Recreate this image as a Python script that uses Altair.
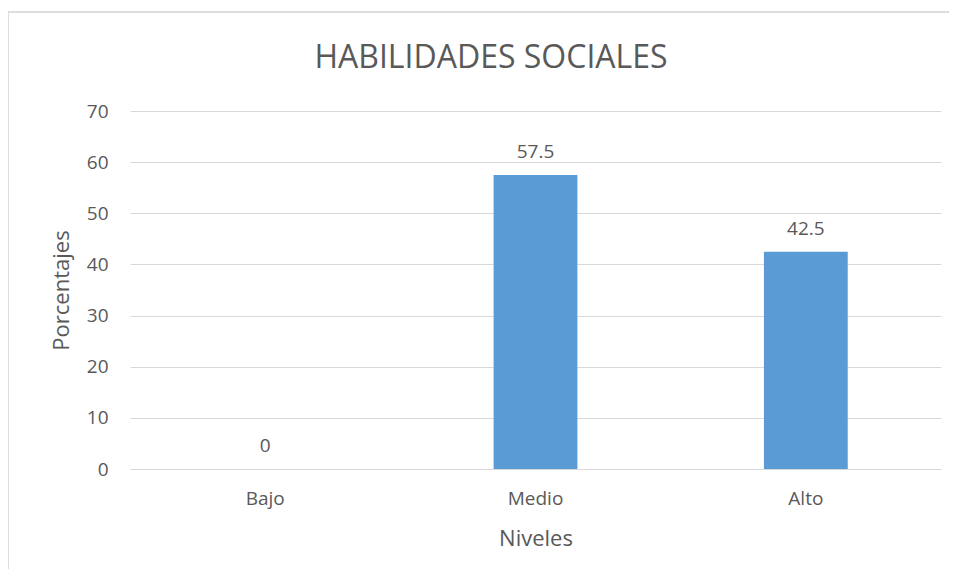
import altair as alt
import pandas as pd

categories = ["Bajo", "Medio", "Alto"]
values = [0, 57.5, 42.5]
labels = ["0", "57.5", "42.5"]
title_text = "HABILIDADES SOCIALES"

df = pd.DataFrame({"Nivel": categories, "Porcentaje": values, "Etiqueta": labels})

FONT = "Open Sans"
TXT = "#595959"
GRID = "#D9D9D9"

x_enc = alt.X("Nivel:N", sort=categories,
              scale=alt.Scale(paddingInner=0.69, paddingOuter=0.345),
              axis=alt.Axis(title="Niveles", labelAngle=0, labelPadding=20, ticks=False,
                            domain=False, titlePadding=20))
y_enc = alt.Y("Porcentaje:Q", scale=alt.Scale(domain=[0, 70], nice=False),
              axis=alt.Axis(title="Porcentajes", values=[0, 10, 20, 30, 40, 50, 60, 70],
                            ticks=False, domain=False, labelPadding=22, titlePadding=13,
                            gridColor=GRID, gridWidth=1))

bars = alt.Chart(df).mark_bar(color="#5B9BD5").encode(x=x_enc, y=y_enc)
text = alt.Chart(df).mark_text(baseline="bottom", dy=-13, font=FONT, fontSize=19, color=TXT).encode(
    x=alt.X("Nivel:N", sort=categories), y="Porcentaje:Q", text="Etiqueta:N")

title = alt.Chart(df).transform_filter(alt.datum.Nivel == "Bajo").mark_text(
    font=FONT, fontSize=32, color=TXT, align="center", baseline="alphabetic").encode(
    x=alt.value(361), y=alt.value(-43), text=alt.value(title_text))

top_border = alt.Chart(df).mark_rule(color=GRID, strokeWidth=1).encode(
    x=alt.value(-122), x2=alt.value(820), y=alt.value(-99))
left_border = alt.Chart(df).mark_rule(color=GRID, strokeWidth=1).encode(
    x=alt.value(-122), y=alt.value(-99), y2=alt.value(470))

chart = alt.layer(bars, text, title, top_border, left_border).properties(
    width=811, height=358,
    padding={"left": 122, "top": 103, "right": 8, "bottom": 100},
    autosize="none",
).configure_view(stroke=None).configure_axis(
    labelFont=FONT, labelFontSize=19, labelColor=TXT,
    titleFont=FONT, titleFontSize=22, titleColor=TXT, titleFontWeight="normal",
).configure_axisX(grid=False)

chart.save("out.html", embed_options={"renderer": "svg", "actions": False})
